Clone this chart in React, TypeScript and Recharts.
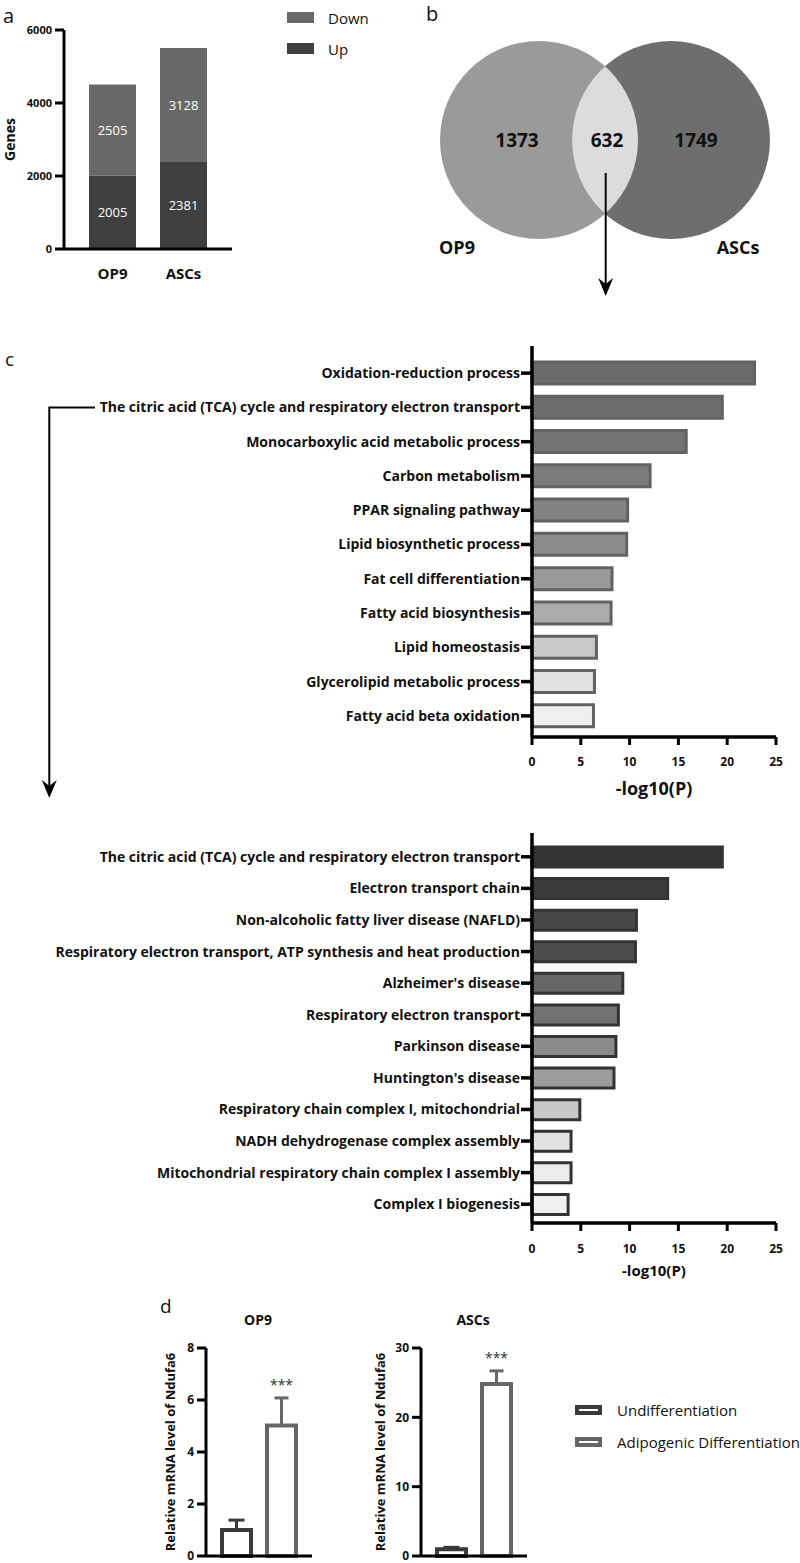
import React from "react";
import {
  BarChart, Bar, XAxis, YAxis, Legend, LabelList, Cell, ErrorBar,
  ScatterChart, Scatter,
} from "recharts";

const FONT = "'Open Sans', sans-serif";
const INK = "#111";

// a: differentially expressed genes
const groups = ["OP9", "ASCs"];
const upCounts = [2005, 2381];
const downCounts = [2505, 3128];
const countTicks = [0, 2000, 4000, 6000];
const countSeries = ["Down", "Up"];

// b: venn
const vennNames = ["OP9", "ASCs"];
const vennOnly = [1373, 1749];
const vennShared = 632;

// c: enrichment of the 632 shared genes
const goTerms = [
  "Oxidation-reduction process",
  "The citric acid (TCA) cycle and respiratory electron transport",
  "Monocarboxylic acid metabolic process",
  "Carbon metabolism",
  "PPAR signaling pathway",
  "Lipid biosynthetic process",
  "Fat cell differentiation",
  "Fatty acid biosynthesis",
  "Lipid homeostasis",
  "Glycerolipid metabolic process",
  "Fatty acid beta oxidation",
];
const goValues = [22.8, 19.5, 15.8, 12.1, 9.8, 9.7, 8.2, 8.1, 6.6, 6.4, 6.3];

const tcaTerms = [
  "The citric acid (TCA) cycle and respiratory electron transport",
  "Electron transport chain",
  "Non-alcoholic fatty liver disease (NAFLD)",
  "Respiratory electron transport, ATP synthesis and heat production",
  "Alzheimer's disease",
  "Respiratory electron transport",
  "Parkinson disease",
  "Huntington's disease",
  "Respiratory chain complex I, mitochondrial",
  "NADH dehydrogenase complex assembly",
  "Mitochondrial respiratory chain complex I assembly",
  "Complex I biogenesis",
];
const tcaValues = [19.5, 13.9, 10.7, 10.6, 9.3, 8.85, 8.6, 8.4, 4.9, 4.0, 4.0, 3.7];
const logTicks = [0, 5, 10, 15, 20, 25];

// d: qPCR of Ndufa6
const qpcrGroups = ["Undifferentiation", "Adipogenic Differentiation"];
const op9Mean = [1.0, 5.02];
const op9Sem = [0.38, 1.06];
const ascMean = [0.96, 24.8];
const ascSem = [0.29, 1.9];
const op9Ticks = [0, 2, 4, 6, 8];
const ascTicks = [0, 10, 20, 30];

// styles
const countColors = { Down: "#686868", Up: "#3f3f3f" };
const goFills = ["#6b6b6b", "#6e6e6e", "#737373", "#7b7b7b", "#838383", "#8c8c8c", "#9a9a9a", "#acacac", "#c9c9c9", "#e0e0e0", "#efefef"];
const tcaFills = ["#333333", "#3b3b3b", "#474747", "#4d4d4d", "#666666", "#727272", "#8a8a8a", "#9c9c9c", "#c8c8c8", "#e2e2e2", "#ececec", "#f0f0f0"];
const qpcrStrokes = ["#3a3a3a", "#666666"];

const VENN = { lx: 139, rx: 271, cy: 140, r: 99, nameY: 247 };
const vennFills = ["#9a9a9a", "#6e6e6e"];

function Txt({ x, y, size, weight = 400, children, anchor = "middle" }: any) {
  const tx = anchor === "middle" ? "-50%" : anchor === "end" ? "-100%" : "0";
  return (
    <div
      style={{
        position: "absolute", left: x, top: y, transform: `translate(${tx}, -50%)`,
        fontFamily: FONT, fontSize: size, fontWeight: weight, color: INK,
        whiteSpace: "nowrap", lineHeight: 1,
      }}
    >
      {children}
    </div>
  );
}

function GeneCounts() {
  const data = groups.map((g, i) => ({ group: g, up: upCounts[i], down: downCounts[i] }));
  const axis = { stroke: "#000", strokeWidth: 3 };
  return (
    <div style={{ position: "absolute", left: 0, top: 0 }}>
      <BarChart width={400} height={300} data={data} margin={{ top: 30, right: 168, bottom: 11, left: 0 }}>
        <Bar dataKey="up" stackId="g" fill={countColors.Up} barSize={47} isAnimationActive={false}>
          <LabelList dataKey="up" position="center" fill="#fff" fontSize={13} fontFamily={FONT} />
        </Bar>
        <Bar dataKey="down" stackId="g" fill={countColors.Down} barSize={47} isAnimationActive={false}>
          <LabelList dataKey="down" position="center" fill="#fff" fontSize={13} fontFamily={FONT} />
        </Bar>
        <XAxis
          dataKey="group" height={40} tickLine={false} tickSize={0} tickMargin={19}
          padding={{ left: 13, right: 13 }} axisLine={axis}
          tick={{ fontFamily: FONT, fontSize: 15, fontWeight: 700, fill: INK }}
        />
        <YAxis
          width={64} domain={[0, 6000]} ticks={countTicks} interval={0} tickSize={9} tickMargin={3}
          axisLine={axis} tickLine={axis}
          tick={{ fontFamily: FONT, fontSize: 11, fontWeight: 700, fill: INK }}
          label={{
            value: "Genes", angle: -90, position: "insideLeft", offset: 10,
            style: { textAnchor: "middle", fontFamily: FONT, fontSize: 14, fontWeight: 700, fill: INK },
          }}
        />
        <Legend
          layout="vertical" align="center" verticalAlign="middle"
          wrapperStyle={{ left: 287, top: 2, width: 110 }}
          content={() => (
            <div style={{ fontFamily: FONT, fontSize: 15, color: INK }}>
              {countSeries.map((s) => (
                <div key={s} style={{ display: "flex", alignItems: "center", height: 31 }}>
                  <span style={{ display: "inline-block", width: 27, height: 11, background: countColors[s], marginRight: 14 }} />
                  <span>{s}</span>
                </div>
              ))}
            </div>
          )}
        />
      </BarChart>
    </div>
  );
}

function Venn() {
  const circles = [
    { x: VENN.lx, y: VENN.cy, fill: vennFills[0] },
    { x: VENN.rx, y: VENN.cy, fill: vennFills[1] },
  ];
  const lens = [{ x: VENN.lx, y: VENN.cy }];
  const labels = [
    { x: VENN.lx - 22, y: VENN.cy, text: String(vennOnly[0]), size: 19 },
    { x: (VENN.lx + VENN.rx) / 2 + 2, y: VENN.cy, text: String(vennShared), size: 19 },
    { x: VENN.rx + 25, y: VENN.cy, text: String(vennOnly[1]), size: 19 },
    { x: VENN.lx - 82, y: VENN.nameY, text: vennNames[0], size: 18 },
    { x: VENN.rx + 67, y: VENN.nameY, text: vennNames[1], size: 18 },
  ];
  const dx = VENN.rx - VENN.lx;
  return (
    <div style={{ position: "absolute", left: 400, top: 0 }}>
      <ScatterChart width={400} height={310} margin={{ top: 0, right: 0, bottom: 0, left: 0 }}>
        <XAxis type="number" dataKey="x" domain={[0, 400]} hide />
        <YAxis type="number" dataKey="y" domain={[0, 310]} reversed hide />
        <Scatter
          data={circles} isAnimationActive={false}
          shape={(p: any) => <circle cx={p.cx} cy={p.cy} r={VENN.r} fill={p.payload.fill} />}
        />
        <Scatter
          data={lens} isAnimationActive={false}
          shape={(p: any) => (
            <g>
              <defs>
                <clipPath id="venn-right">
                  <circle cx={p.cx + dx} cy={p.cy} r={VENN.r} />
                </clipPath>
              </defs>
              <circle cx={p.cx} cy={p.cy} r={VENN.r} fill="#dcdcdc" clipPath="url(#venn-right)" />
            </g>
          )}
        />
        <Scatter
          data={labels} isAnimationActive={false}
          shape={(p: any) => (
            <text
              x={p.cx} y={p.cy} textAnchor="middle" dominantBaseline="central"
              fontFamily={FONT} fontSize={p.payload.size} fontWeight={700} fill={INK}
            >
              {p.payload.text}
            </text>
          )}
        />
      </ScatterChart>
    </div>
  );
}

function Enrichment({ terms, values, fills, stroke, top, height, margin, pad, barSize, xHeight, tickMargin, titleSize, titleOffset }: any) {
  const data = terms.map((t: string, i: number) => ({ term: t, value: values[i] }));
  const axis = { stroke: "#000", strokeWidth: 3.5 };
  return (
    <div style={{ position: "absolute", left: 0, top }}>
      <BarChart layout="vertical" width={800} height={height} data={data} margin={margin}>
        <Bar dataKey="value" barSize={barSize} stroke={stroke} strokeWidth={3} isAnimationActive={false}>
          {data.map((d: any, i: number) => (
            <Cell key={d.term} fill={fills[i]} />
          ))}
        </Bar>
        <XAxis
          type="number" domain={[0, 25]} ticks={logTicks} interval={0} height={xHeight}
          tickSize={8} tickMargin={tickMargin} axisLine={axis} tickLine={{ stroke: "#000", strokeWidth: 3 }}
          tick={{ fontFamily: FONT, fontSize: 12, fontWeight: 700, fill: INK }}
          label={{
            value: "-log10(P)", position: "insideBottom", offset: titleOffset,
            style: { fontFamily: FONT, fontSize: titleSize, fontWeight: 700, fill: INK },
          }}
        />
        <YAxis
          type="category" dataKey="term" width={532} interval={0} tickSize={11} tickMargin={1}
          padding={pad} axisLine={axis} tickLine={axis}
          tick={{ fontFamily: FONT, fontSize: 14, fontWeight: 700, fill: INK }}
        />
      </BarChart>
    </div>
  );
}

function Qpcr({ title, means, sems, ticks, left, labelOffset, withLegend }: any) {
  const data = [{ name: title, undiff: means[0], adipo: means[1], undiffErr: [0, sems[0]], adipoErr: [0, sems[1]] }];
  const axis = { stroke: "#000", strokeWidth: 3 };
  const stars = (p: any) => {
    const vb = p.viewBox ?? p;
    const { x, y, width, height } = vb;
    const topY = y - (height / means[1]) * sems[1];
    return (
      <text x={x + width / 2} y={topY - 8} textAnchor="middle" fontFamily={FONT} fontSize={14} fill="#333">
        ***
      </text>
    );
  };
  return (
    <div style={{ position: "absolute", left, top: 1300 }}>
      <BarChart
        width={withLegend ? 435 : 170} height={263} data={data} barGap={16}
        margin={{ top: 48, right: withLegend ? 273 : 8, bottom: 5, left: 0 }}
      >
        <Bar dataKey="undiff" barSize={29} fill="#fff" stroke={qpcrStrokes[0]} strokeWidth={4} isAnimationActive={false}>
          <ErrorBar dataKey="undiffErr" width={8} stroke={qpcrStrokes[0]} strokeWidth={3} />
        </Bar>
        <Bar dataKey="adipo" barSize={29} fill="#fff" stroke={qpcrStrokes[1]} strokeWidth={4} isAnimationActive={false}>
          <ErrorBar dataKey="adipoErr" width={7} stroke={qpcrStrokes[1]} strokeWidth={3} />
          <LabelList dataKey="adipo" content={stars} />
        </Bar>
        <XAxis dataKey="name" tick={false} tickLine={false} height={2} axisLine={axis} />
        <YAxis
          width={56} domain={[0, ticks[ticks.length - 1]]} ticks={ticks} interval={0} tickSize={9} tickMargin={3}
          axisLine={axis} tickLine={axis}
          tick={{ fontFamily: FONT, fontSize: 12, fontWeight: 700, fill: INK }}
          label={{
            value: "Relative mRNA level of Ndufa6", angle: -90, position: "insideLeft", offset: labelOffset,
            style: { textAnchor: "middle", fontFamily: FONT, fontSize: 13, fontWeight: 700, fill: INK },
          }}
        />
        {withLegend && (
          <Legend
            layout="vertical" align="center" verticalAlign="middle"
            wrapperStyle={{ left: 210, top: 94, width: 230 }}
            content={() => (
              <div style={{ fontFamily: FONT, fontSize: 15, color: INK }}>
                {qpcrGroups.map((g, i) => (
                  <div key={g} style={{ display: "flex", alignItems: "center", height: 32, whiteSpace: "nowrap" }}>
                    <svg width={27} height={10} style={{ marginRight: 15 }}>
                      <rect x={2} y={2} width={23} height={6} fill="#fff" stroke={qpcrStrokes[i]} strokeWidth={4} />
                    </svg>
                    <span>{g}</span>
                  </div>
                ))}
              </div>
            )}
          />
        )}
      </BarChart>
    </div>
  );
}

function Arrows() {
  const head = (x: number, y: number) => `M${x},${y} L${x - 7.5},${y - 18} L${x},${y - 12} L${x + 7.5},${y - 18} Z`;
  return (
    <svg width={800} height={1563} style={{ position: "absolute", left: 0, top: 0, pointerEvents: "none" }}>
      <line x1={605.7} y1={173} x2={605.7} y2={286} stroke="#000" strokeWidth={2} />
      <path d={head(605.7, 296)} fill="#000" />
      <polyline points="95,407.5 49.3,407.5 49.3,788" fill="none" stroke="#000" strokeWidth={2} />
      <path d={head(49.3, 798)} fill="#000" />
    </svg>
  );
}

export default function App() {
  return (
    <div style={{ position: "absolute", left: 0, top: 0, width: 800, height: 1563, background: "#fff", overflow: "hidden" }}>
      <GeneCounts />
      <Venn />
      <Enrichment
        terms={goTerms} values={goValues} fills={goFills} stroke="#626262"
        top={330} height={480} margin={{ top: 16, right: 24, bottom: 3, left: 0 }}
        pad={{ top: 10, bottom: 4 }} barSize={22} xHeight={70} tickMargin={12}
        titleSize={18} titleOffset={12}
      />
      <Enrichment
        terms={tcaTerms} values={tcaValues} fills={tcaFills} stroke="#333333"
        top={820} height={470} margin={{ top: 13, right: 24, bottom: 3, left: 0 }}
        pad={{ top: 8, bottom: 3 }} barSize={20} xHeight={64} tickMargin={13}
        titleSize={15} titleOffset={11}
      />
      <Qpcr title="OP9" means={op9Mean} sems={op9Sem} ticks={op9Ticks} left={150} labelOffset={20} />
      <Qpcr title="ASCs" means={ascMean} sems={ascSem} ticks={ascTicks} left={365} labelOffset={15} withLegend />
      <Arrows />
      <Txt x={3} y={16} size={20} anchor="start">a</Txt>
      <Txt x={426} y={14} size={20} anchor="start">b</Txt>
      <Txt x={5} y={359} size={19} anchor="start">c</Txt>
      <Txt x={160} y={1306} size={19} anchor="start">d</Txt>
      <Txt x={258} y={1320} size={14} weight={700}>OP9</Txt>
      <Txt x={473} y={1320} size={14} weight={700}>ASCs</Txt>
    </div>
  );
}
